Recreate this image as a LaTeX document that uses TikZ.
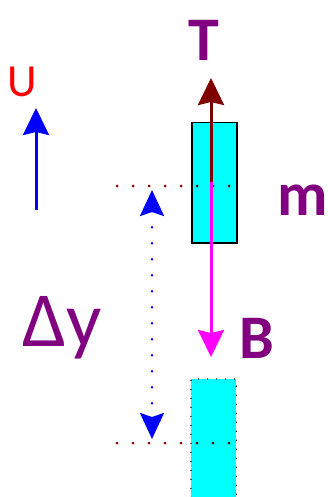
\documentclass[tikz,border=0pt]{standalone}
\usepackage{fontspec}
\setmainfont{Carlito}
\usetikzlibrary{arrows.meta}
\definecolor{lab}{HTML}{800080}
\definecolor{tcol}{HTML}{800000}
\definecolor{aqua}{HTML}{00FFFF}
\definecolor{pink}{HTML}{FF00FF}
\definecolor{bl}{HTML}{0000FF}
\definecolor{rd}{HTML}{FF0000}
\tikzset{
  lbl/.style={text=lab,font=\bfseries\fontsize{62}{62}\selectfont,inner sep=0},
  force/.style={line width=3pt,-{Stealth[length=27pt,width=26pt,inset=3pt]}},
  refline/.style={tcol,line width=3pt,line cap=round,dash pattern=on 0pt off 16pt},
}
\begin{document}
\begin{tikzpicture}[x=1pt,y=-1pt]
\useasboundingbox (0,0) rectangle (327,497);
% upper mass
\node[draw=black,fill=aqua,line width=1.5pt,minimum width=45pt,minimum height=120pt,inner sep=0,anchor=north west] (box) at (191,122) {};
% lower (ghost) mass
\fill[aqua] (191,379) rectangle (236,497);
\node[inner sep=0,minimum width=45pt,minimum height=118pt,anchor=north west] (ghost) at (191,379) {};
\draw[black,line width=1.6pt,line cap=round,dash pattern=on 0pt off 9pt] (ghost.south west) -- (ghost.north west) -- (ghost.north east) -- (ghost.south east);
% reference lines
\coordinate (a1) at (117,186); \coordinate (a2) at (235,186);
\coordinate (b1) at (117,443); \coordinate (b2) at (235,443);
\draw[refline] (a1) -- (a2);
\draw[refline] (b1) -- (b2);
% forces
\coordinate (c) at (211,182);
\coordinate (tt) at (211,78);
\coordinate (bt) at (211,357);
\draw[force,pink] (c) -- (bt);
\draw[force,tcol] (c) -- (tt);
% up direction
\coordinate (u1) at (36,210); \coordinate (u2) at (36,108);
\draw[force,bl] (u1) -- (u2);
% displacement
\coordinate (d1) at (152,190); \coordinate (d2) at (152,439);
\draw[bl,line width=2.8pt,dash pattern=on 0pt off 16pt,line cap=round,{Stealth[length=26pt,width=24pt,inset=4pt]}-{Stealth[length=26pt,width=24pt,inset=4pt]}] (d1) -- (d2);
% labels
\node[lbl] (T) at (204,40) {T};
\node[lbl] (m) at (303,200) {m};
\node[lbl] (B) at (257,338) {B};
\node[text=rd,font=\fontsize{46}{46}\selectfont,inner sep=0] (U) at (22,82) {U};
\node[text=lab,font=\fontsize{78}{78}\selectfont,inner sep=0] (dy) at (62,328) {Δy};
\end{tikzpicture}
\end{document}
